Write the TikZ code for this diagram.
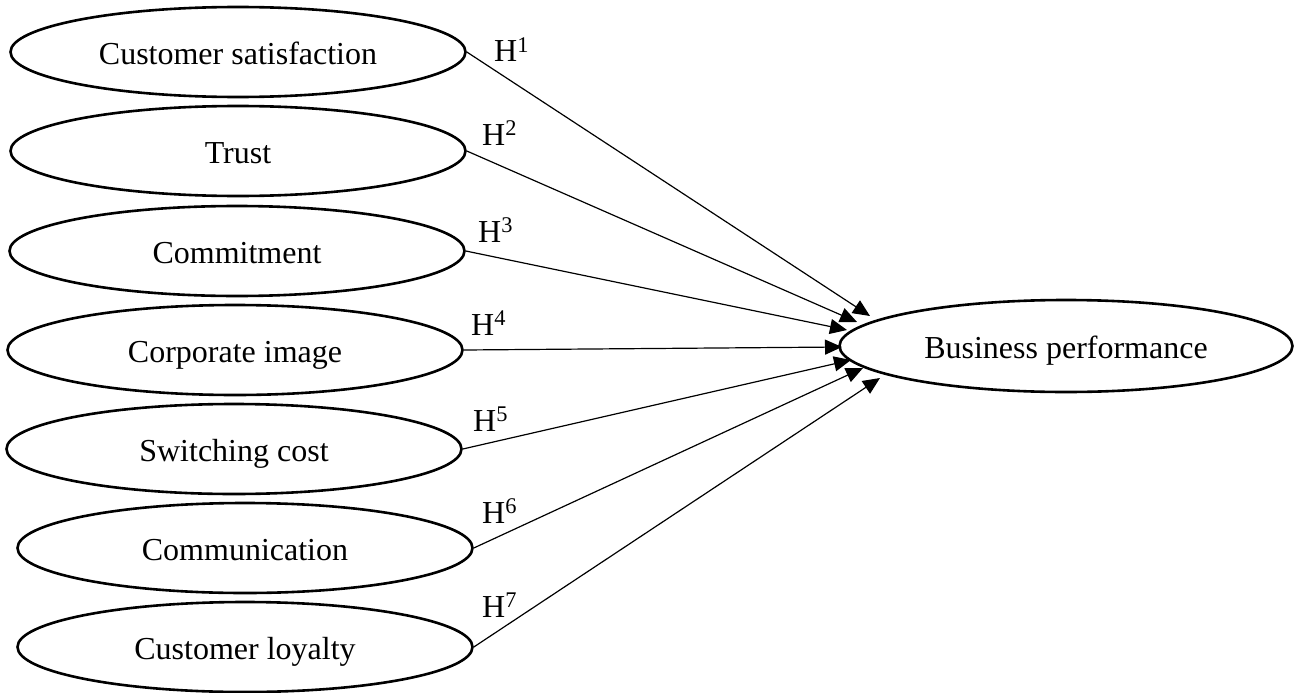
\documentclass[tikz,border=0pt]{standalone}
\usepackage{fontspec}
\setmainfont{Liberation Serif}
\usetikzlibrary{shapes.geometric,arrows.meta}
\begin{document}
\begin{tikzpicture}[x=1pt,y=-1pt,
  construct/.style={draw,ellipse,line width=2.6pt,minimum width=455pt,minimum height=90pt,inner sep=0pt,text height=26pt,text depth=2pt,font=\fontsize{32}{36}\selectfont},
  hyp/.style={line width=1.2pt,-{Triangle[length=17pt,width=15pt]}},
  hlabel/.style={anchor=base west,inner sep=0pt,font=\fontsize{32}{36}\selectfont}]
\useasboundingbox (0,0) rectangle (1314,693);
\node[construct] (s1) at (238,52) {Customer satisfaction};
\node[construct] (s2) at (238,151) {Trust};
\node[construct] (s3) at (237,251) {Commitment};
\node[construct] (s4) at (235,350) {Corporate image};
\node[construct] (s5) at (234,449) {Switching cost};
\node[construct] (s6) at (245,548) {Communication};
\node[construct] (s7) at (245,647) {Customer loyalty};
\node[construct,minimum width=453pt,minimum height=92pt] (bp) at (1066,346) {Business performance};
\coordinate (t1) at (870,316);
\coordinate (t2) at (857,322);
\coordinate (t3) at (847,330);
\coordinate (t4) at (842,347);
\coordinate (t5) at (851,360);
\coordinate (t6) at (863,368);
\coordinate (t7) at (880,378);
\draw[hyp] (s1.east) -- (t1);
\draw[hyp] (s2.east) -- (t2);
\draw[hyp] (s3.east) -- (t3);
\draw[hyp] (s4.east) -- (t4);
\draw[hyp] (s5.east) -- (t5);
\draw[hyp] (s6.east) -- (t6);
\draw[hyp] (s7.east) -- (t7);
\node[hlabel] (h1) at (494,62) {H\textsuperscript{1}};
\node[hlabel] (h2) at (482,145) {H\textsuperscript{2}};
\node[hlabel] (h3) at (478,242) {H\textsuperscript{3}};
\node[hlabel] (h4) at (471,335) {H\textsuperscript{4}};
\node[hlabel] (h5) at (473,431) {H\textsuperscript{5}};
\node[hlabel] (h6) at (482,523) {H\textsuperscript{6}};
\node[hlabel] (h7) at (482,617) {H\textsuperscript{7}};
\end{tikzpicture}
\end{document}
